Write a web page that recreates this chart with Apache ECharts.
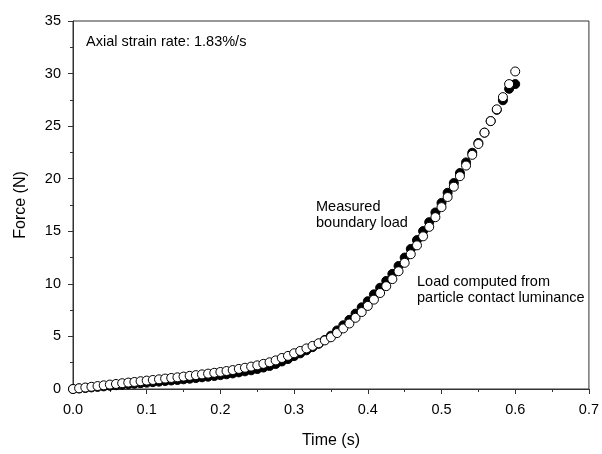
<!DOCTYPE html>
<html>
<head>
<meta charset="utf-8">
<script src="https://cdn.jsdelivr.net/npm/echarts@6/dist/echarts.min.js"></script>
<style>html,body{margin:0;padding:0;background:#fff}#c{width:602px;height:454px}</style>
</head>
<body>
<div id="c"></div>
<script>
// Time samples (s): 1/120 s spacing
const timeValues = [0.0000,0.0083,0.0167,0.0250,0.0333,0.0417,0.0500,0.0583,0.0667,0.0750,0.0833,0.0917,0.1000,0.1083,0.1167,0.1250,0.1333,0.1417,0.1500,0.1583,0.1667,0.1750,0.1833,0.1917,0.2000,0.2083,0.2167,0.2250,0.2333,0.2417,0.2500,0.2583,0.2667,0.2750,0.2833,0.2917,0.3000,0.3083,0.3167,0.3250,0.3333,0.3417,0.3500,0.3583,0.3667,0.3750,0.3833,0.3917,0.4000,0.4083,0.4167,0.4250,0.4333,0.4417,0.4500,0.4583,0.4667,0.4750,0.4833,0.4917,0.5000,0.5083,0.5167,0.5250,0.5333,0.5417,0.5500,0.5583,0.5667,0.5750,0.5833,0.5917,0.6000];
// Measured boundary load (N), filled circles
const measuredLoad = [0.00,0.05,0.10,0.15,0.20,0.25,0.31,0.36,0.41,0.46,0.50,0.55,0.60,0.65,0.70,0.76,0.81,0.86,0.92,0.98,1.04,1.11,1.17,1.24,1.32,1.40,1.48,1.58,1.68,1.78,1.90,2.04,2.19,2.38,2.62,2.85,3.13,3.39,3.68,3.98,4.30,4.67,5.07,5.57,6.06,6.58,7.17,7.77,8.35,9.00,9.63,10.28,10.95,11.70,12.50,13.32,14.16,15.02,15.87,16.79,17.70,18.66,19.59,20.54,21.55,22.47,23.40,24.38,25.48,26.55,27.46,28.55,29.00];
// Load computed from particle contact luminance (N), open circles
const computedLoad = [0.00,0.07,0.14,0.21,0.28,0.35,0.42,0.48,0.55,0.61,0.67,0.74,0.80,0.86,0.92,0.99,1.05,1.11,1.18,1.25,1.32,1.39,1.46,1.54,1.62,1.71,1.80,1.91,2.02,2.13,2.25,2.39,2.54,2.72,2.95,3.15,3.40,3.62,3.86,4.10,4.35,4.62,4.92,5.32,5.76,6.23,6.77,7.32,7.90,8.50,9.13,9.78,10.45,11.20,12.00,12.82,13.66,14.52,15.42,16.34,17.30,18.26,19.24,20.24,21.25,22.27,23.30,24.38,25.48,26.60,27.76,29.00,30.20];
const xTicks = [0.0,0.1,0.2,0.3,0.4,0.5,0.6,0.7];
const yTicks = [0,5,10,15,20,25,30,35];

const FONT = 'Liberation Sans, Arial, sans-serif';
const chart = echarts.init(document.getElementById('c'), null, {renderer:'canvas'});
const pair = (ys) => timeValues.map((t,i)=>[t, ys[i]]);
chart.setOption({
  animation:false,
  backgroundColor:'#fff',
  grid:{left:73,right:10,top:21,bottom:62,show:true,borderColor:'#333',borderWidth:1,backgroundColor:'transparent'},
  xAxis:{type:'value',min:xTicks[0],max:xTicks[xTicks.length-1],interval:0.1,
    name:'Time (s)',nameLocation:'middle',nameGap:44,
    nameTextStyle:{fontFamily:FONT,fontSize:16,color:'#000'},
    axisLine:{show:true,lineStyle:{color:'#333',width:1}},
    axisTick:{show:true,inside:false,length:5,lineStyle:{color:'#333'}},
    minorTick:{show:true,splitNumber:2,length:3,lineStyle:{color:'#333'}},
    splitLine:{show:false},
    axisLabel:{fontFamily:FONT,fontSize:14.5,color:'#000',margin:13,formatter:v=>v.toFixed(1)}},
  yAxis:{type:'value',min:yTicks[0],max:yTicks[yTicks.length-1],interval:5,
    name:'Force (N)',nameLocation:'middle',nameGap:44,
    nameTextStyle:{fontFamily:FONT,fontSize:16,color:'#000'},
    axisLine:{show:true,lineStyle:{color:'#333',width:1}},
    axisTick:{show:true,inside:false,length:5,lineStyle:{color:'#333'}},
    minorTick:{show:true,splitNumber:2,length:3,lineStyle:{color:'#333'}},
    splitLine:{show:false},
    axisLabel:{fontFamily:FONT,fontSize:14.5,color:'#000',margin:12}},
  series:[
    {name:'Measured boundary load',type:'scatter',data:pair(measuredLoad),symbol:'circle',symbolSize:9,
      itemStyle:{color:'#000',borderColor:'#000',borderWidth:1,opacity:1},z:2},
    {name:'Load computed from particle contact luminance',type:'scatter',data:pair(computedLoad),symbol:'circle',symbolSize:9,
      itemStyle:{color:'#fff',borderColor:'#000',borderWidth:1,opacity:1},z:3}
  ],
  graphic:[
    {type:'text',left:86,top:34,style:{text:'Axial strain rate: 1.83%/s',font:'14.5px '+FONT,fill:'#000'}},
    {type:'text',left:316,top:199,style:{text:'Measured\nboundary load',font:'14.5px '+FONT,fill:'#000',lineHeight:16}},
    {type:'text',left:417,top:274,style:{text:'Load computed from\nparticle contact luminance',font:'14.5px '+FONT,fill:'#000',lineHeight:16}}
  ]
});
</script>
</body>
</html>
